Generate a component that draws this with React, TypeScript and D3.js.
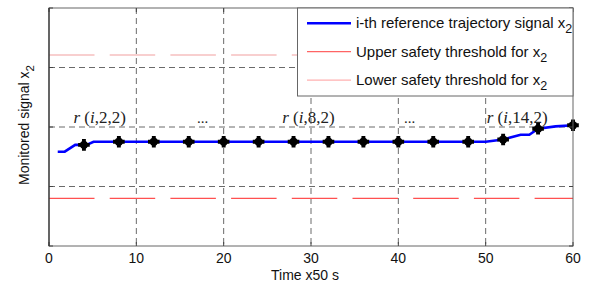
import React from "react";
import * as d3 from "d3";

// blue reference trajectory (time in units of 50 s)
const lineTime = [1, 1.8, 3, 4.3, 5.1, 50, 52, 54, 55, 56, 58, 60];
const lineValue = [1.585, 1.585, 1.7, 1.7, 1.753, 1.753, 1.79, 1.87, 1.87, 1.97, 2.01, 2.03];

// sampled reference points r(i,k,2)
const markerTime = [4, 8, 12, 16, 20, 24, 28, 32, 36, 40, 44, 48, 52, 56, 60];
const markerValue = [1.7, 1.753, 1.753, 1.753, 1.753, 1.753, 1.753, 1.753, 1.753, 1.753, 1.753, 1.753, 1.79, 1.97, 2.03];

const upperThreshold = 3.21;
const lowerThreshold = 0.8;

const xTicks = [0, 10, 20, 30, 40, 50, 60];
const yGrid = [1, 2, 3];

const annotationIndex = ["2", "", "8", "", "14"];
const annotationTime = [5.8, 17.6, 29.7, 41.3, 53.6];

const legendLabels = [
  "i-th reference trajectory signal x",
  "Upper safety threshold for x",
  "Lower safety threshold for x",
];
const legendColors = ["#0000ff", "#ff6464", "#ffb0b0"];

export default function App() {
  const width = 595;
  const height = 283;
  const left = 49;
  const right = 573;
  const top = 8;
  const bottom = 246;

  const x = d3.scaleLinear().domain([0, 60]).range([left, right]);
  const y = d3.scaleLinear().domain([0, 4]).range([bottom, top]);

  const line = d3
    .line<number>()
    .x((d, i) => x(lineTime[i]))
    .y((d) => y(d));

  const cross = d3.symbol().type(d3.symbolCross).size(75)();
  const sans = "Arial, 'Liberation Sans', sans-serif";
  const serif = "'Times New Roman', 'Liberation Serif', serif";

  return (
    <svg
      width={width}
      height={height}
      style={{ position: "absolute", left: 0, top: 0, background: "#fff" }}
    >
      {/* grid */}
      {xTicks.slice(1, -1).map((t) => (
        <line key={"vx" + t} x1={x(t)} x2={x(t)} y1={top} y2={bottom}
          stroke="#444" strokeWidth={0.8} strokeDasharray="6,4" />
      ))}
      {yGrid.map((v) => (
        <line key={"hy" + v} x1={left} x2={right} y1={y(v)} y2={y(v)}
          stroke="#444" strokeWidth={0.8} strokeDasharray="6,4" />
      ))}

      {/* thresholds */}
      <line x1={left} x2={right} y1={y(upperThreshold)} y2={y(upperThreshold)}
        stroke="#f2a0a0" strokeWidth={1.2} strokeDasharray="45.5,15.2" />
      <line x1={left} x2={right} y1={y(lowerThreshold)} y2={y(lowerThreshold)}
        stroke="#ff5050" strokeWidth={1.2} strokeDasharray="45.5,15.2" />

      {/* trajectory */}
      <path d={line(lineValue) || ""} fill="none" stroke="#0000ff" strokeWidth={2.6} />
      {markerValue.map((v, i) => (
        <g key={"m" + i} transform={`translate(${x(markerTime[i])},${y(v)})`}>
          <circle r={4.2} fill="#000" />
          <path d={cross || ""} fill="#000" />
        </g>
      ))}

      {/* annotations */}
      {annotationIndex.map((k, i) =>
        k ? (
          <text key={"a" + i} x={x(annotationTime[i])} y={123} textAnchor="middle"
            fontFamily={serif} fontSize={17} fill="#222">
            <tspan fontStyle="italic">r</tspan>
            <tspan> (</tspan>
            <tspan fontStyle="italic">i</tspan>
            <tspan>{`,${k},2)`}</tspan>
          </text>
        ) : (
          <text key={"a" + i} x={x(annotationTime[i])} y={123} textAnchor="middle"
            fontFamily={serif} fontSize={15} fill="#222">...</text>
        )
      )}

      {/* frame and ticks */}
      <rect x={left} y={top} width={right - left} height={bottom - top}
        fill="none" stroke="#666" strokeWidth={1} />
      {xTicks.map((t) => (
        <g key={"t" + t}>
          <line x1={x(t)} x2={x(t)} y1={bottom} y2={bottom - 4} stroke="#444" />
          <line x1={x(t)} x2={x(t)} y1={top} y2={top + 4} stroke="#444" />
          <text x={x(t)} y={263} textAnchor="middle" fontFamily={sans} fontSize={14} fill="#111">
            {t}
          </text>
        </g>
      ))}
      {[0, ...yGrid, 4].map((v) => (
        <g key={"yt" + v}>
          <line x1={left} x2={left + 4} y1={y(v)} y2={y(v)} stroke="#444" />
          <line x1={right} x2={right - 4} y1={y(v)} y2={y(v)} stroke="#444" />
        </g>
      ))}
      <line x1={left} x2={left} y1={top} y2={bottom} stroke="#333" strokeWidth={1.2} />

      {/* axis labels */}
      <text x={305} y={280} textAnchor="middle" fontFamily={sans} fontSize={14} fill="#111">
        Time x50 s
      </text>
      <text transform="translate(29,125) rotate(-90)" textAnchor="middle"
        fontFamily={sans} fontSize={14} fill="#111">
        Monitored signal x<tspan fontSize={11.5} dy={5}>2</tspan>
      </text>

      {/* legend */}
      <rect x={297.5} y={top} width={right - 297.5} height={96 - top}
        fill="#fff" stroke="#666" strokeWidth={1} />
      {legendLabels.map((label, i) => {
        const ly = 23.3 + i * 28.4;
        return (
          <g key={"l" + i}>
            <line x1={307} x2={351} y1={ly} y2={ly} stroke={legendColors[i]}
              strokeWidth={i === 0 ? 2.6 : 1.2} />
            <text x={356} y={ly + 5} fontFamily={sans} fontSize={15} fill="#111">
              {label}
              <tspan fontSize={12.5} dy={5}>2</tspan>
            </text>
          </g>
        );
      })}
    </svg>
  );
}
